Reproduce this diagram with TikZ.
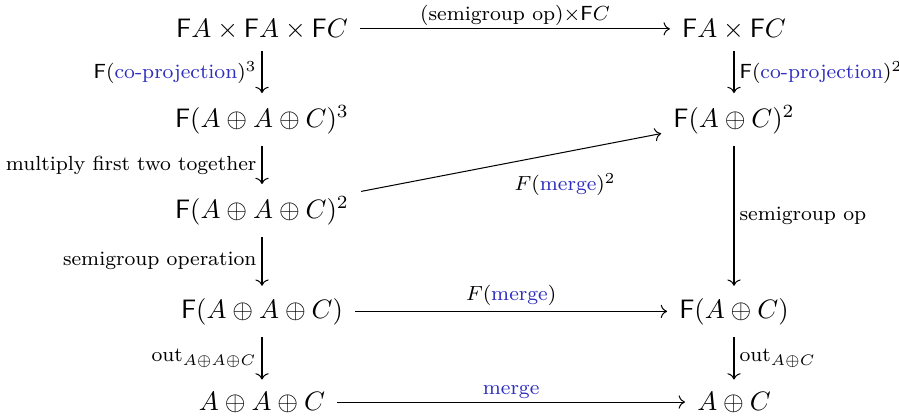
\documentclass[tikz,border=0pt]{standalone}
\usepackage{amsmath}
\usepackage{graphicx}
\usetikzlibrary{cd}
\definecolor{lblue}{RGB}{45,45,190}
\newcommand{\objtext}[1]{\scalebox{1.045}{$#1$}}
\begin{document}
\begin{tikzpicture}[x=0.3922pt,y=-0.3922pt,
  obj/.style={anchor=base, inner sep=4.6pt, font=\normalsize},
  arr/.style={-cm to, line width=0.4pt},
  lab/.style={font=\footnotesize, inner sep=2pt}]
\useasboundingbox (0,0) rectangle (899,419);
% objects
\node[obj] (a1) at (262,37)  {\objtext{\mathsf{F}A\times\mathsf{F}A\times\mathsf{F}C}};
\node[obj] (b1) at (734,37)  {\objtext{\mathsf{F}A\times\mathsf{F}C}};
\node[obj] (a2) at (262,127) {\objtext{\mathsf{F}(A\oplus A\oplus C)^3}};
\node[obj] (b2) at (734,127) {\objtext{\mathsf{F}(A\oplus C)^2}};
\node[obj] (a3) at (262,218) {\objtext{\mathsf{F}(A\oplus A\oplus C)^2}};
\node[obj] (a4) at (262,318) {\objtext{\mathsf{F}(A\oplus A\oplus C)}};
\node[obj] (b4) at (734,318) {\objtext{\mathsf{F}(A\oplus C)}};
\node[obj] (a5) at (262,410) {\objtext{A\oplus A\oplus C}};
\node[obj] (b5) at (734,410) {\objtext{A\oplus C}};
% arrows
\draw[arr] (a1) -- node[lab, above, yshift=-1pt] {(semigroup op)$\times\mathsf{F}C$} (b1);
\draw[arr] (a1) -- node[lab, left] {$\mathsf{F}$(\textcolor{lblue}{co-projection})$^3$} (a2);
\draw[arr] (b1) -- node[lab, right] {$\mathsf{F}$(\textcolor{lblue}{co-projection})$^2$} (b2);
\draw[arr] (a2) -- node[lab, left] {multiply first two together} (a3);
\draw[arr] (a3) -- node[lab, pos=0.68, below, yshift=-6.2pt] {$F$(\textcolor{lblue}{merge})$^2$} (b2);
\draw[arr] (b2) -- node[lab, right] {semigroup op} (b4);
\draw[arr] (a3) -- node[lab, left] {semigroup operation} (a4);
\draw[arr] (a4) -- node[lab, above] {$F$(\textcolor{lblue}{merge})} (b4);
\draw[arr] (a4) -- node[lab, left] {out$_{A\oplus A\oplus C}$} (a5);
\draw[arr] (b4) -- node[lab, right] {out$_{A\oplus C}$} (b5);
\draw[arr] (a5) -- node[lab, above, yshift=-1pt] {\textcolor{lblue}{merge}} (b5);
\end{tikzpicture}
\end{document}
